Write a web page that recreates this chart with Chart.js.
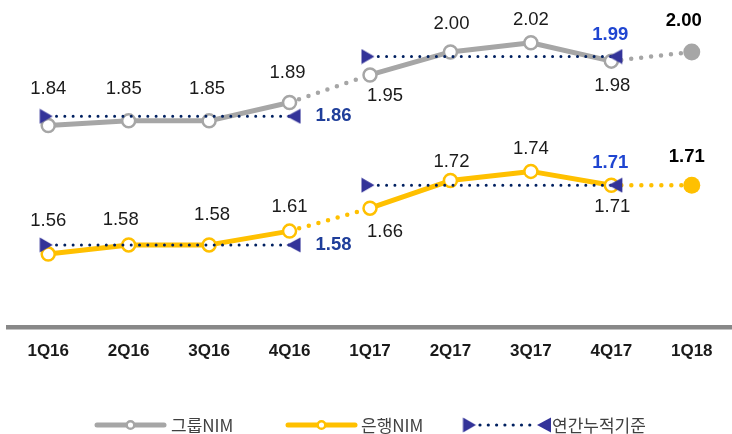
<!DOCTYPE html>
<html><head><meta charset="utf-8">
<script src="https://cdn.jsdelivr.net/npm/chart.js@4.4.1/dist/chart.umd.min.js"></script>
<style>html,body{margin:0;padding:0;background:#fff}canvas{display:block}</style>
</head><body>
<canvas id="c" width="732" height="434"></canvas>
<script>
// ---- data ----
const categories = ['1Q16','2Q16','3Q16','4Q16','1Q17','2Q17','3Q17','4Q17','1Q18'];
const groupNIM = [1.84, 1.85, 1.85, 1.89, 1.95, 2.00, 2.02, 1.98, 2.00];
const bankNIM  = [1.56, 1.58, 1.58, 1.61, 1.66, 1.72, 1.74, 1.71, 1.71];
const annualYears = ['2016', '2017'];
const groupAnnual = [1.86, 1.99];
const bankAnnual  = [1.58, 1.71];
const legendLabels = ['그룹NIM', '은행NIM', '연간누적기준'];

// ---- styles ----
const GRAY = '#A6A6A6', YELLOW = '#FFC000', NAVY_DOT = '#002060', NAVY_TRI = '#333399';
const BLUE_DARK = '#1F3E9A', BLUE_BRIGHT = '#1F45D1', TEXT = '#1a1a1a';
const dottedSegs = [3, 7]; // segments drawn dotted (4Q16->1Q17, 4Q17->1Q18)

// label offsets [dx, dy] from each point
const groupLabelOffsets = [[0,-37],[-5,-32],[-2,-32],[-2,-30],[15,21],[1,-28],[0,-23],[1,25],[-8,-31]];
const bankLabelOffsets  = [[0,-33],[-8,-25],[3,-30],[0,-24],[15,24],[1,-19],[0,-22],[1,22],[-5,-28]];
const annualLabelOffsets = [[44,0],[-1,-22]];

function triCanvas(dir) {
  const c = document.createElement('canvas');
  c.width = 30; c.height = 16;
  const g = c.getContext('2d');
  g.fillStyle = NAVY_TRI;
  g.beginPath();
  if (dir === 'right') { g.moveTo(6.5, 0.5); g.lineTo(19.5, 8); g.lineTo(6.5, 15.5); }
  else { g.moveTo(12, 8); g.lineTo(26, 0.5); g.lineTo(26, 15.5); }
  g.closePath(); g.fill();
  return c;
}
const triR = triCanvas('right'), triL = triCanvas('left');

function yearSpan(v, yi) {
  const s = yi * 4;
  return categories.map((_, i) => (i >= s && i < s + 4) ? v : null);
}

const datasets = [];
annualYears.forEach((y, yi) => {
  [['group', groupAnnual], ['bank', bankAnnual]].forEach(([k, arr]) => {
    const s = yi * 4;
    datasets.push({
      label: '연간누적기준 ' + k + ' ' + y,
      data: yearSpan(arr[yi], yi),
      borderColor: NAVY_DOT, borderWidth: 3, borderDash: [0, 8.3], borderCapStyle: 'round',
      pointStyle: c => c.dataIndex === s ? triR : (c.dataIndex === s + 3 ? triL : 'circle'),
      pointRadius: c => (c.dataIndex === s || c.dataIndex === s + 3) ? 8 : 0,
      spanGaps: false, order: 1,
      _annual: { yi: yi, idx: s + 3 }
    });
  });
});

function nimDataset(label, values, color, offsets) {
  const last = values.length - 1;
  return {
    label: label, data: values, borderColor: color, backgroundColor: color,
    borderWidth: 5, borderCapStyle: 'round', borderJoinStyle: 'round',
    segment: {
      borderDash: c => dottedSegs.includes(c.p0DataIndex) ? [0, 10] : undefined,
      borderWidth: c => dottedSegs.includes(c.p0DataIndex) ? 4.5 : undefined
    },
    pointRadius: c => c.dataIndex === last ? 8.5 : 6.5,
    pointBorderWidth: c => c.dataIndex === last ? 0 : 2.5,
    pointBackgroundColor: c => c.dataIndex === last ? color : '#ffffff',
    pointBorderColor: color,
    order: 2,
    _labels: offsets
  };
}
datasets.push(nimDataset(legendLabels[0], groupNIM, GRAY, groupLabelOffsets));
datasets.push(nimDataset(legendLabels[1], bankNIM, YELLOW, bankLabelOffsets));

const valueLabels = {
  id: 'valueLabels',
  afterDatasetsDraw(chart) {
    const ctx = chart.ctx;
    ctx.save();
    ctx.textAlign = 'center'; ctx.textBaseline = 'middle';
    chart.data.datasets.forEach((ds, di) => {
      const meta = chart.getDatasetMeta(di);
      if (ds._labels) {
        ds.data.forEach((v, i) => {
          const p = meta.data[i];
          const o = ds._labels[i];
          const last = i === ds.data.length - 1;
          ctx.font = (last ? 'bold ' : '') + '18.5px "Liberation Sans", Arial, sans-serif';
          ctx.fillStyle = last ? '#000' : TEXT;
          ctx.fillText(v.toFixed(2), p.x + o[0], p.y + o[1]);
        });
      } else if (ds._annual) {
        const a = ds._annual;
        const p = meta.data[a.idx];
        const o = annualLabelOffsets[a.yi];
        ctx.font = 'bold 18.5px "Liberation Sans", Arial, sans-serif';
        ctx.fillStyle = a.yi === 0 ? BLUE_DARK : BLUE_BRIGHT;
        ctx.fillText(ds.data[a.idx].toFixed(2), p.x + o[0], p.y + o[1]);
      }
    });
    ctx.restore();
  }
};

const customLegend = {
  id: 'customLegend',
  afterDraw(chart) {
    const ctx = chart.ctx, y = 425;
    ctx.save();
    ctx.font = '17px "Noto Sans CJK KR", sans-serif';
    ctx.textBaseline = 'middle'; ctx.textAlign = 'left';
    const sample = (x0, x1, col, tx, text) => {
      ctx.strokeStyle = col; ctx.lineWidth = 5; ctx.lineCap = 'round';
      ctx.beginPath(); ctx.moveTo(x0 + 2, y); ctx.lineTo(x1 - 2, y); ctx.stroke();
      ctx.beginPath(); ctx.arc((x0 + x1) / 2, y, 3.8, 0, Math.PI * 2);
      ctx.fillStyle = '#fff'; ctx.fill(); ctx.lineWidth = 2.5; ctx.stroke();
      ctx.fillStyle = '#404040'; ctx.fillText(text, tx, y + 1);
    };
    sample(95, 166, GRAY, 171, legendLabels[0]);
    sample(286, 357, YELLOW, 361, legendLabels[1]);
    ctx.drawImage(triR, 463 - 6.5, y - 8);
    ctx.drawImage(triL, 551 - 26, y - 8);
    ctx.fillStyle = NAVY_DOT;
    for (let x = 480; x <= 536; x += 8.3) { ctx.beginPath(); ctx.arc(x, y, 1.6, 0, Math.PI * 2); ctx.fill(); }
    ctx.fillStyle = '#404040'; ctx.fillText(legendLabels[2], 552, y + 1);
    ctx.restore();
  }
};

new Chart(document.getElementById('c'), {
  type: 'line',
  data: { labels: categories, datasets: datasets },
  options: {
    responsive: false, animation: false, devicePixelRatio: 1,
    layout: { autoPadding: false, padding: { top: 6, left: 8, right: 0, bottom: 58 } },
    plugins: { legend: { display: false }, tooltip: { enabled: false } },
    scales: {
      x: {
        type: 'category', offset: true,
        grid: { display: false, drawTicks: false, tickLength: 0 },
        border: { display: true, color: '#888888', width: 4.5 },
        ticks: { color: TEXT, padding: 14, font: { family: '"Liberation Sans", Arial', size: 17, weight: 'bold' } }
      },
      y: { display: false, min: 1.4, max: 2.1 }
    }
  },
  plugins: [valueLabels, customLegend]
});
</script>
</body></html>
